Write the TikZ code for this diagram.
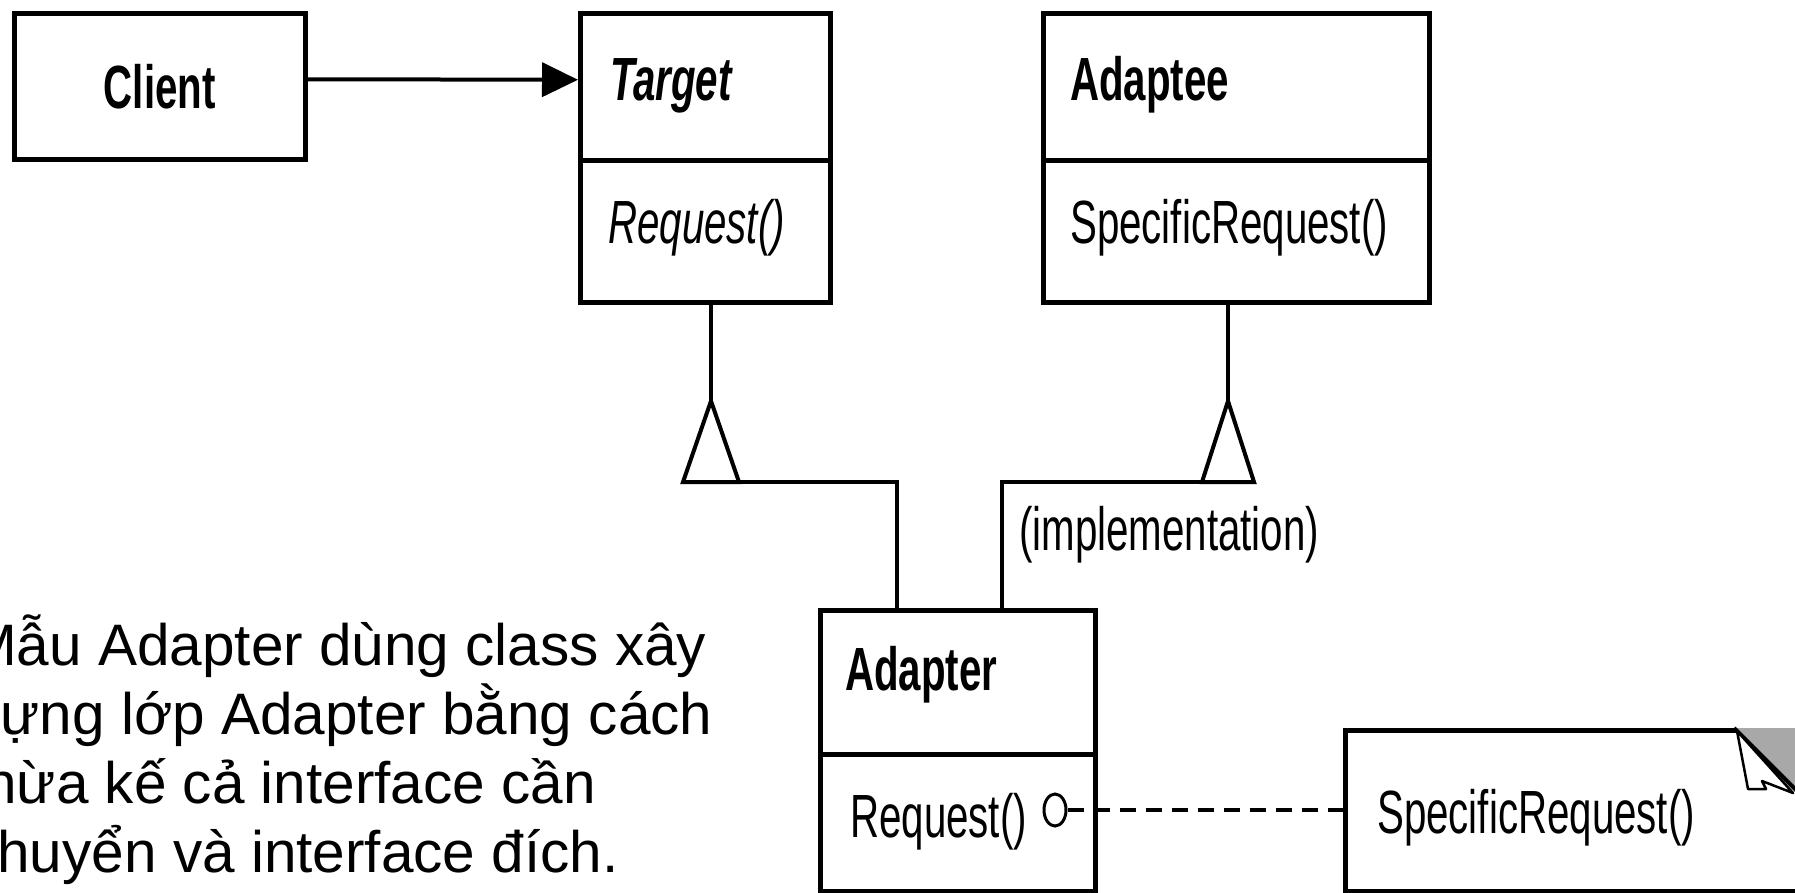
\documentclass[tikz,border=0pt]{standalone}
\usepackage{fontspec}
\setmainfont{Liberation Sans}
\newfontfamily\umlfont[FakeStretch=0.66]{Liberation Sans}
\usetikzlibrary{arrows.meta, shapes.geometric}
\definecolor{foldgray}{HTML}{A8A8A8}

\begin{document}
\begin{tikzpicture}[x=1pt, y=-1pt,
    classbox/.style={draw, line width=4.5pt, anchor=north west, inner sep=0pt},
    lbl/.style={anchor=base west, inner sep=0pt, font=\umlfont\fontsize{61}{61}\selectfont},
    desc/.style={anchor=base west, inner sep=0pt, font=\fontsize{58.5}{58.5}\selectfont},
    link/.style={line width=4pt},
    tri/.style={line width=4pt, fill=white, line join=miter}]
    \useasboundingbox (0,0) rectangle (1795,892);

    % Client
    \node[classbox, minimum width=291pt, minimum height=146pt] (client) at (12,11) {};
    \node[inner sep=0pt, font=\umlfont\bfseries\fontsize{61}{61}\selectfont] (clientname) at (client) {Client};

    % Target
    \node[classbox, minimum width=250pt, minimum height=147pt] (target) at (578,11) {};
    \node[classbox, minimum width=250pt, minimum height=142pt] (targetops) at (578,158) {};
    \node[lbl] (targetname) at (610,100) {\bfseries\itshape Target};
    \node[lbl] (targetreq) at (608,243) {\itshape Request()};

    % Adaptee
    \node[classbox, minimum width=386pt, minimum height=147pt] (adaptee) at (1041,11) {};
    \node[classbox, minimum width=386pt, minimum height=142pt] (adapteeops) at (1041,158) {};
    \node[lbl] (adapteename) at (1070,100) {\bfseries Adaptee};
    \node[lbl] (adapteereq) at (1070,243) {SpecificRequest()};

    % Adapter
    \node[classbox, minimum width=275pt, minimum height=144pt] (adapter) at (818,608) {};
    \node[classbox, minimum width=275pt, minimum height=137pt] (adapterops) at (818,752) {};
    \node[lbl] (adaptername) at (845,690) {\bfseries Adapter};
    \node[lbl] (adapterreq) at (850,837) {Request()};

    % note
    \node[classbox, minimum width=460pt, minimum height=161pt] (note) at (1343,728) {};
    \node[lbl] (notetxt) at (1377,833) {SpecificRequest()};
    \fill[foldgray] (1734,728) -- (1800,728) -- (1800,794) -- cycle;
    \draw[link] (1734,728) -- (1800,794);
    \draw[line width=2.5pt, fill=white, line join=round] (1737,731) -- (1748,789) -- (1766,789) -- (1762,781) -- (1793,793) -- cycle;

    % Client -> Target
    \draw[link, -{Triangle[length=36pt, width=34pt]}] ([yshift=7pt]client.east) -- ([yshift=7pt]target.west);

    % Adapter inherits Target
    \coordinate (tapex) at (711,401);
    \coordinate (tbase) at (739,482);
    \coordinate (ljoin) at (897,482);
    \draw[link] (targetops.south -| tapex) -- (tapex);
    \draw[tri] (tapex) -- ++(-28,81) -- ++(56,0) -- cycle;
    \draw[link] (tbase) -- (ljoin) -- (ljoin |- adapter.north);

    % Adapter implements via Adaptee
    \coordinate (aapex) at (1228,401);
    \coordinate (abase) at (1202,482);
    \coordinate (rjoin) at (1002,482);
    \draw[link] (adapteeops.south -| aapex) -- (aapex);
    \draw[tri] (aapex) -- ++(-26,81) -- ++(52,0) -- cycle;
    \draw[link] (abase) -- (rjoin) -- (rjoin |- adapter.north);
    \node[lbl] (impl) at (1019,550) {(implementation)};

    % Request() -> note
    \node[draw, ellipse, line width=3pt, minimum width=22pt, minimum height=32pt, inner sep=0pt] (port) at (1055,810) {};
    \draw[link, dash pattern=on 16pt off 10pt] (port.east) -- (note.west |- port.east);

    % description
    \foreach \n/\yy/\txt in {1/665/{Mẫu Adapter dùng class xây},
                             2/734/{\hphantom{d}ựng lớp Adapter bằng cách},
                             3/803/{\hphantom{t}hừa kế cả interface cần},
                             4/872/{\hphantom{c}huyển và interface đích.}}
        \node[desc] (desc\n) at (-32,\yy) {\txt};
\end{tikzpicture}
\end{document}
